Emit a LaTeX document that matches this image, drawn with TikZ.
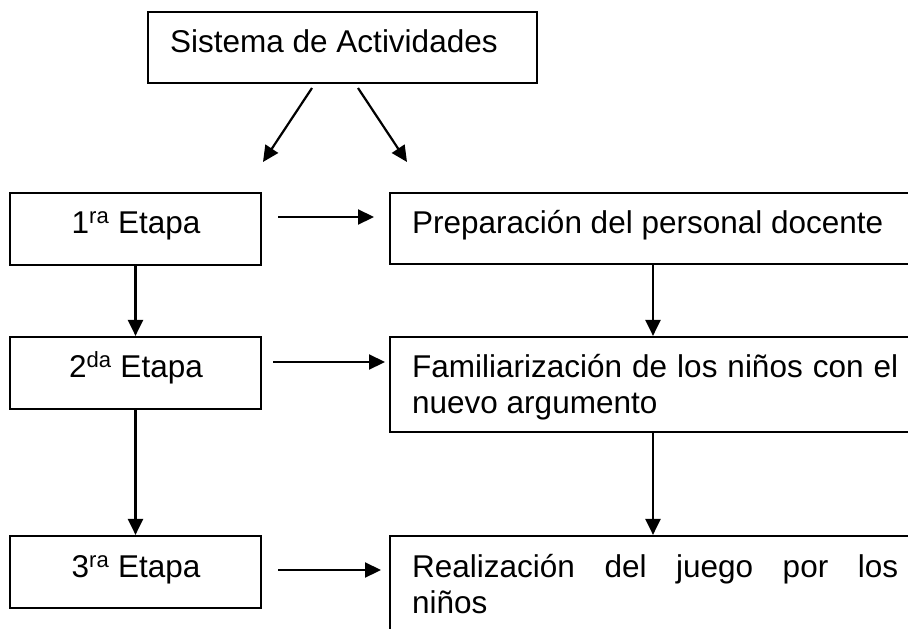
\documentclass[tikz,border=0pt]{standalone}
\usepackage{fontspec}
\setmainfont{Liberation Sans}
\usetikzlibrary{arrows.meta}
\begin{document}
\begin{tikzpicture}[x=1pt,y=-1pt,
  boxst/.style={draw,line width=2.2pt,inner sep=0pt,rectangle},
  lbl/.style={inner sep=0pt,font=\fontsize{31.5pt}{36.3pt}\selectfont},
  arr/.style={line width=2.2pt,-{Triangle[length=16pt,width=15pt]}}]
\useasboundingbox (0,0) rectangle (908,629);
\clip (0,0) rectangle (908,629);
% boxes
\node[boxst,minimum width=389pt,minimum height=71pt] (top) at (342.5,47.5) {};
\node[boxst,minimum width=251pt,minimum height=72pt] (e1) at (135.5,229) {};
\node[boxst,minimum width=251pt,minimum height=72pt] (e2) at (135.5,373) {};
\node[boxst,minimum width=251pt,minimum height=72pt] (e3) at (135.5,572) {};
\node[boxst,minimum width=526pt,minimum height=71pt] (r1) at (653,228.5) {};
\node[boxst,minimum width=526pt,minimum height=95pt] (r2) at (653,384.5) {};
\node[boxst,minimum width=526pt,minimum height=104pt] (r3) at (653,588) {};
% texts
\node[lbl,anchor=base west] (ttop) at (170,52) {Sistema de Actividades};
\node[lbl,anchor=base] (t1) at (136,233) {1\textsuperscript{ra} Etapa};
\node[lbl,anchor=base] (t2) at (136,377) {2\textsuperscript{da} Etapa};
\node[lbl,anchor=base] (t3) at (136,577) {3\textsuperscript{ra} Etapa};
\node[lbl,anchor=base west] (tr1) at (412,233) {Preparación del personal docente};
\node[lbl,anchor=base west] (tr2a) at (412,377) {\makebox[486pt][s]{Familiarización de los niños con el}};
\node[lbl,anchor=base west] (tr2b) at (412,413) {nuevo argumento};
\node[lbl,anchor=base west] (tr3a) at (412,577) {\makebox[486pt][s]{Realización del juego por los}};
\node[lbl,anchor=base west] (tr3b) at (412,613) {niños};
% coordinates for free-standing arrows
\coordinate (dl1) at (312,88);
\coordinate (dl2) at (263,162);
\coordinate (dr1) at (358,88);
\coordinate (dr2) at (407,162);
\coordinate (h1a) at (278,217);
\coordinate (h1b) at (374,217);
\coordinate (h2a) at (273,362);
\coordinate (h2b) at (385,362);
\coordinate (h3a) at (278,570);
\coordinate (h3b) at (381,570);
% arrows
\draw[arr] (dl1) -- (dl2);
\draw[arr] (dr1) -- (dr2);
\draw[arr] (e1.south) -- (e2.north);
\draw[arr] (e2.south) -- (e3.north);
\draw[arr] (r1.south) -- (r2.north);
\draw[arr] (r2.south) -- (r3.north);
\draw[arr] (h1a) -- (h1b);
\draw[arr] (h2a) -- (h2b);
\draw[arr] (h3a) -- (h3b);
\end{tikzpicture}
\end{document}
